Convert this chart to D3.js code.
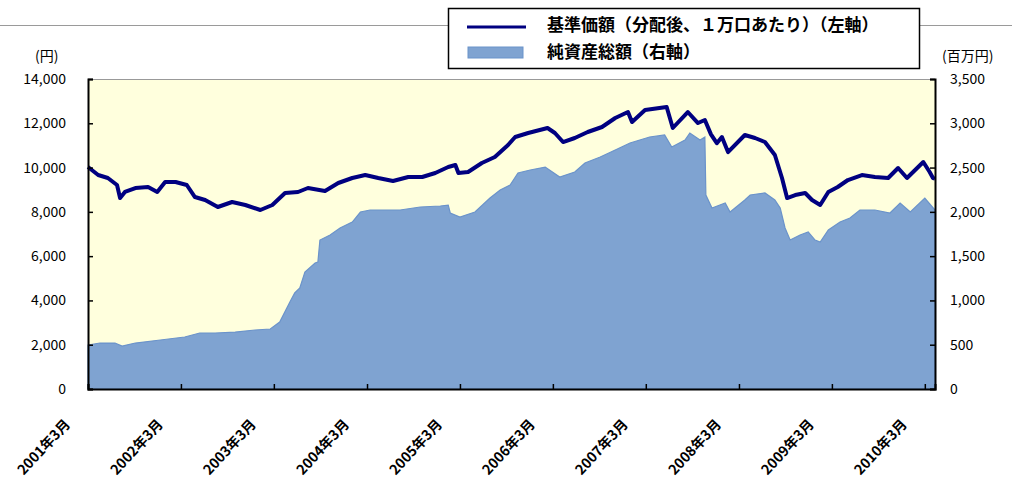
<!DOCTYPE html>
<html>
<head>
<meta charset="utf-8">
<script src="https://cdn.jsdelivr.net/npm/d3@7"></script>
<style>
  body { margin: 0; background: #fff; }
  svg text { font-family: "Noto Sans CJK JP", "Liberation Sans", sans-serif; fill: #000; }
</style>
</head>
<body>
<svg id="chart" width="1012" height="483"></svg>
<script>
// 基準価額（分配後、1万口あたり）: [date, yen]
const navSeries = [
  ["2001-03-01", 10025], ["2001-04-10", 9664], ["2001-05-18", 9530], ["2001-06-23", 9213],
  ["2001-07-05", 8625], ["2001-07-24", 8900], ["2001-09-03", 9077], ["2001-10-23", 9122],
  ["2001-11-28", 8897], ["2001-12-29", 9348], ["2002-02-08", 9348], ["2002-03-24", 9213],
  ["2002-04-25", 8670], ["2002-06-04", 8535], ["2002-07-24", 8219], ["2002-09-18", 8445],
  ["2002-11-09", 8309], ["2003-01-07", 8083], ["2003-02-23", 8309], ["2003-04-14", 8851],
  ["2003-06-04", 8896], ["2003-07-13", 9077], ["2003-09-18", 8942], ["2003-11-09", 9303],
  ["2004-01-03", 9529], ["2004-02-23", 9664], ["2004-04-14", 9529], ["2004-06-11", 9393],
  ["2004-08-10", 9574], ["2004-10-04", 9574], ["2004-11-24", 9754], ["2005-01-14", 10025],
  ["2005-02-11", 10116], ["2005-02-23", 9754], ["2005-04-02", 9800], ["2005-05-26", 10206],
  ["2005-07-16", 10477], ["2005-09-06", 11019], ["2005-10-04", 11380], ["2005-11-24", 11561],
  ["2006-02-08", 11787], ["2006-03-09", 11561], ["2006-04-10", 11154], ["2006-05-26", 11335],
  ["2006-07-16", 11606], ["2006-09-10", 11832], ["2006-11-01", 12238], ["2006-12-21", 12509],
  ["2007-01-06", 12057], ["2007-02-26", 12600], ["2007-05-22", 12735], ["2007-06-15", 11787],
  ["2007-08-13", 12509], ["2007-09-22", 12012], ["2007-10-19", 12148], ["2007-11-12", 11500],
  ["2007-12-05", 11100], ["2007-12-25", 11380], ["2008-01-18", 10700], ["2008-03-24", 11470],
  ["2008-05-03", 11335], ["2008-06-11", 11154], ["2008-07-20", 10567], ["2008-08-17", 9529],
  ["2008-09-06", 8625], ["2008-10-08", 8761], ["2008-11-16", 8851], ["2008-12-13", 8535],
  ["2009-01-14", 8309], ["2009-02-15", 8896], ["2009-03-24", 9122], ["2009-05-03", 9438],
  ["2009-06-27", 9664], ["2009-08-17", 9574], ["2009-10-08", 9529], ["2009-11-16", 9980],
  ["2009-12-21", 9529], ["2010-02-23", 10251], ["2010-03-20", 9800], ["2010-04-02", 9529],
  ["2010-04-10", 9500]
];

// 純資産総額: [date, 百万円]
const assetSeries = [
  ["2001-03-01", 497], ["2001-04-17", 519], ["2001-06-15", 519], ["2001-07-13", 485],
  ["2001-09-03", 519], ["2001-12-10", 553], ["2002-03-16", 587], ["2002-05-14", 632],
  ["2002-07-13", 632], ["2002-09-30", 643], ["2002-12-17", 666], ["2003-02-15", 677],
  ["2003-03-24", 756], ["2003-05-03", 982], ["2003-05-22", 1084], ["2003-06-11", 1140],
  ["2003-07-01", 1321], ["2003-08-10", 1423], ["2003-08-21", 1434], ["2003-08-29", 1682],
  ["2003-10-08", 1739], ["2003-11-16", 1818], ["2004-01-03", 1885], ["2004-02-04", 1998],
  ["2004-03-13", 2021], ["2004-07-09", 2021], ["2004-09-26", 2055], ["2004-12-14", 2066],
  ["2005-01-14", 2077], ["2005-01-22", 1987], ["2005-03-01", 1942], ["2005-04-29", 1998],
  ["2005-06-27", 2156], ["2005-08-06", 2247], ["2005-09-14", 2303], ["2005-10-15", 2439],
  ["2005-12-02", 2473], ["2006-01-30", 2506], ["2006-03-28", 2393], ["2006-05-26", 2450],
  ["2006-07-05", 2552], ["2006-09-03", 2619], ["2006-11-01", 2698], ["2006-12-29", 2777],
  ["2007-03-16", 2845], ["2007-05-14", 2868], ["2007-06-11", 2732], ["2007-08-02", 2811],
  ["2007-08-21", 2890], ["2007-09-30", 2811], ["2007-10-19", 2845], ["2007-10-23", 2190],
  ["2007-11-16", 2043], ["2007-12-17", 2077], ["2008-01-07", 2100], ["2008-01-26", 1998],
  ["2008-03-24", 2134], ["2008-04-14", 2190], ["2008-06-11", 2213], ["2008-07-20", 2134],
  ["2008-08-10", 2043], ["2008-08-29", 1818], ["2008-09-18", 1682], ["2008-10-27", 1739],
  ["2008-11-28", 1773], ["2008-12-25", 1682], ["2009-01-14", 1660], ["2009-02-15", 1795],
  ["2009-04-02", 1885], ["2009-05-11", 1931], ["2009-06-19", 2021], ["2009-08-17", 2021],
  ["2009-10-15", 1987], ["2009-11-24", 2100], ["2010-01-03", 1998], ["2010-03-01", 2156],
  ["2010-04-10", 2021]
];

const leftTicks = [0, 2000, 4000, 6000, 8000, 10000, 12000, 14000];
const rightTicks = [0, 500, 1000, 1500, 2000, 2500, 3000, 3500];
const xTickYears = [2001, 2002, 2003, 2004, 2005, 2006, 2007, 2008, 2009, 2010];
const legendLabels = ["基準価額（分配後、１万口あたり）（左軸）", "純資産総額（右軸）"];

const parse = d3.timeParse("%Y-%m-%d");
const nav = navSeries.map(([d, v]) => ({ date: parse(d), v }));
const assets = assetSeries.map(([d, v]) => ({ date: parse(d), v }));

const plot = { left: 88, right: 935, top: 79, bottom: 389 };
const svg = d3.select("#chart");

const x = d3.scaleTime()
  .domain([parse("2001-03-01"), parse("2010-04-10")])
  .range([plot.left, plot.right]);
const yLeft = d3.scaleLinear().domain([0, 14000]).range([plot.bottom, plot.top]);
const yRight = d3.scaleLinear().domain([0, 3500]).range([plot.bottom, plot.top]);

// gray rule across the top, behind the legend
svg.append("line")
  .attr("x1", 0).attr("x2", 1012).attr("y1", 25.5).attr("y2", 25.5)
  .style("stroke", "#9a9a9a").style("stroke-width", 1);

// plot background
svg.append("rect")
  .attr("x", plot.left).attr("y", plot.top)
  .attr("width", plot.right - plot.left).attr("height", plot.bottom - plot.top)
  .style("fill", "#ffffdd");

svg.append("path")
  .datum(assets)
  .attr("d", d3.area().x((d) => x(d.date)).y0(plot.bottom).y1((d) => yRight(d.v)))
  .style("fill", "#7fa3d1")
  .style("stroke", "#6b93ca")
  .style("stroke-width", 1.2);

svg.append("path")
  .datum(nav)
  .attr("d", d3.line().x((d) => x(d.date)).y((d) => yLeft(d.v)))
  .style("fill", "none")
  .style("stroke", "#000080")
  .style("stroke-width", 4)
  .style("stroke-linejoin", "round");

// top border (gray)
svg.append("line")
  .attr("x1", plot.left).attr("x2", plot.right)
  .attr("y1", plot.top + 0.5).attr("y2", plot.top + 0.5)
  .style("stroke", "#999").style("stroke-width", 1);

// axes
const leftAxis = svg.append("g")
  .attr("transform", `translate(${plot.left},0)`)
  .call(d3.axisRight(yLeft).tickValues(leftTicks).tickSize(5).tickFormat(""));
const rightAxis = svg.append("g")
  .attr("transform", `translate(${plot.right},0)`)
  .call(d3.axisLeft(yRight).tickValues(rightTicks).tickSize(5).tickFormat(""));
const xTicks = xTickYears.map((yr) => new Date(yr, 2, 1));
const bottomAxis = svg.append("g")
  .attr("transform", `translate(0,${plot.bottom})`)
  .call(d3.axisTop(x).tickValues(xTicks).tickSize(5).tickFormat(""));
[leftAxis, rightAxis, bottomAxis].forEach((g) => {
  g.select(".domain").style("stroke", "#000").style("stroke-width", 2);
  g.selectAll(".tick line").style("stroke", "#000").style("stroke-width", 1.5);
});

// tick labels
svg.selectAll(".lLab")
  .data(leftTicks)
  .enter()
  .append("text")
  .attr("class", "lLab")
  .attr("x", 66)
  .attr("y", (d) => yLeft(d) + 5)
  .attr("text-anchor", "end")
  .style("font-size", "14px")
  .text((d) => d3.format(",")(d));

svg.selectAll(".rLab")
  .data(rightTicks)
  .enter()
  .append("text")
  .attr("class", "rLab")
  .attr("x", 950)
  .attr("y", (d) => yRight(d) + 5)
  .style("font-size", "14px")
  .text((d) => d3.format(",")(d));

svg.selectAll(".xLab")
  .data(xTicks)
  .enter()
  .append("text")
  .attr("class", "xLab")
  .attr("text-anchor", "end")
  .attr("transform", (d) => `translate(${x(d) - 17},${plot.bottom + 36}) rotate(-47)`)
  .style("font-size", "14px")
  .style("font-weight", "bold")
  .text((d) => `${d.getFullYear()}年3月`);

svg.append("text").attr("x", 35).attr("y", 61).style("font-size", "14px").text("(円)");
svg.append("text").attr("x", 942).attr("y", 61).style("font-size", "14px").text("(百万円)");

// legend
svg.append("rect")
  .attr("x", 448.5).attr("y", 8.5).attr("width", 471).attr("height", 60)
  .style("fill", "#fff").style("stroke", "#000").style("stroke-width", 1.5);
svg.append("line")
  .attr("x1", 467).attr("x2", 526).attr("y1", 27).attr("y2", 27)
  .style("stroke", "#000080").style("stroke-width", 3);
svg.append("rect")
  .attr("x", 468).attr("y", 47).attr("width", 55).attr("height", 11)
  .style("fill", "#7fa3d1").style("stroke", "#6b93ca");
svg.selectAll(".legText")
  .data(legendLabels)
  .enter()
  .append("text")
  .attr("class", "legText")
  .attr("x", 547)
  .attr("y", (d, i) => 31 + i * 27)
  .style("font-size", "17px")
  .style("font-weight", "bold")
  .text((d) => d);
</script>
</body>
</html>
